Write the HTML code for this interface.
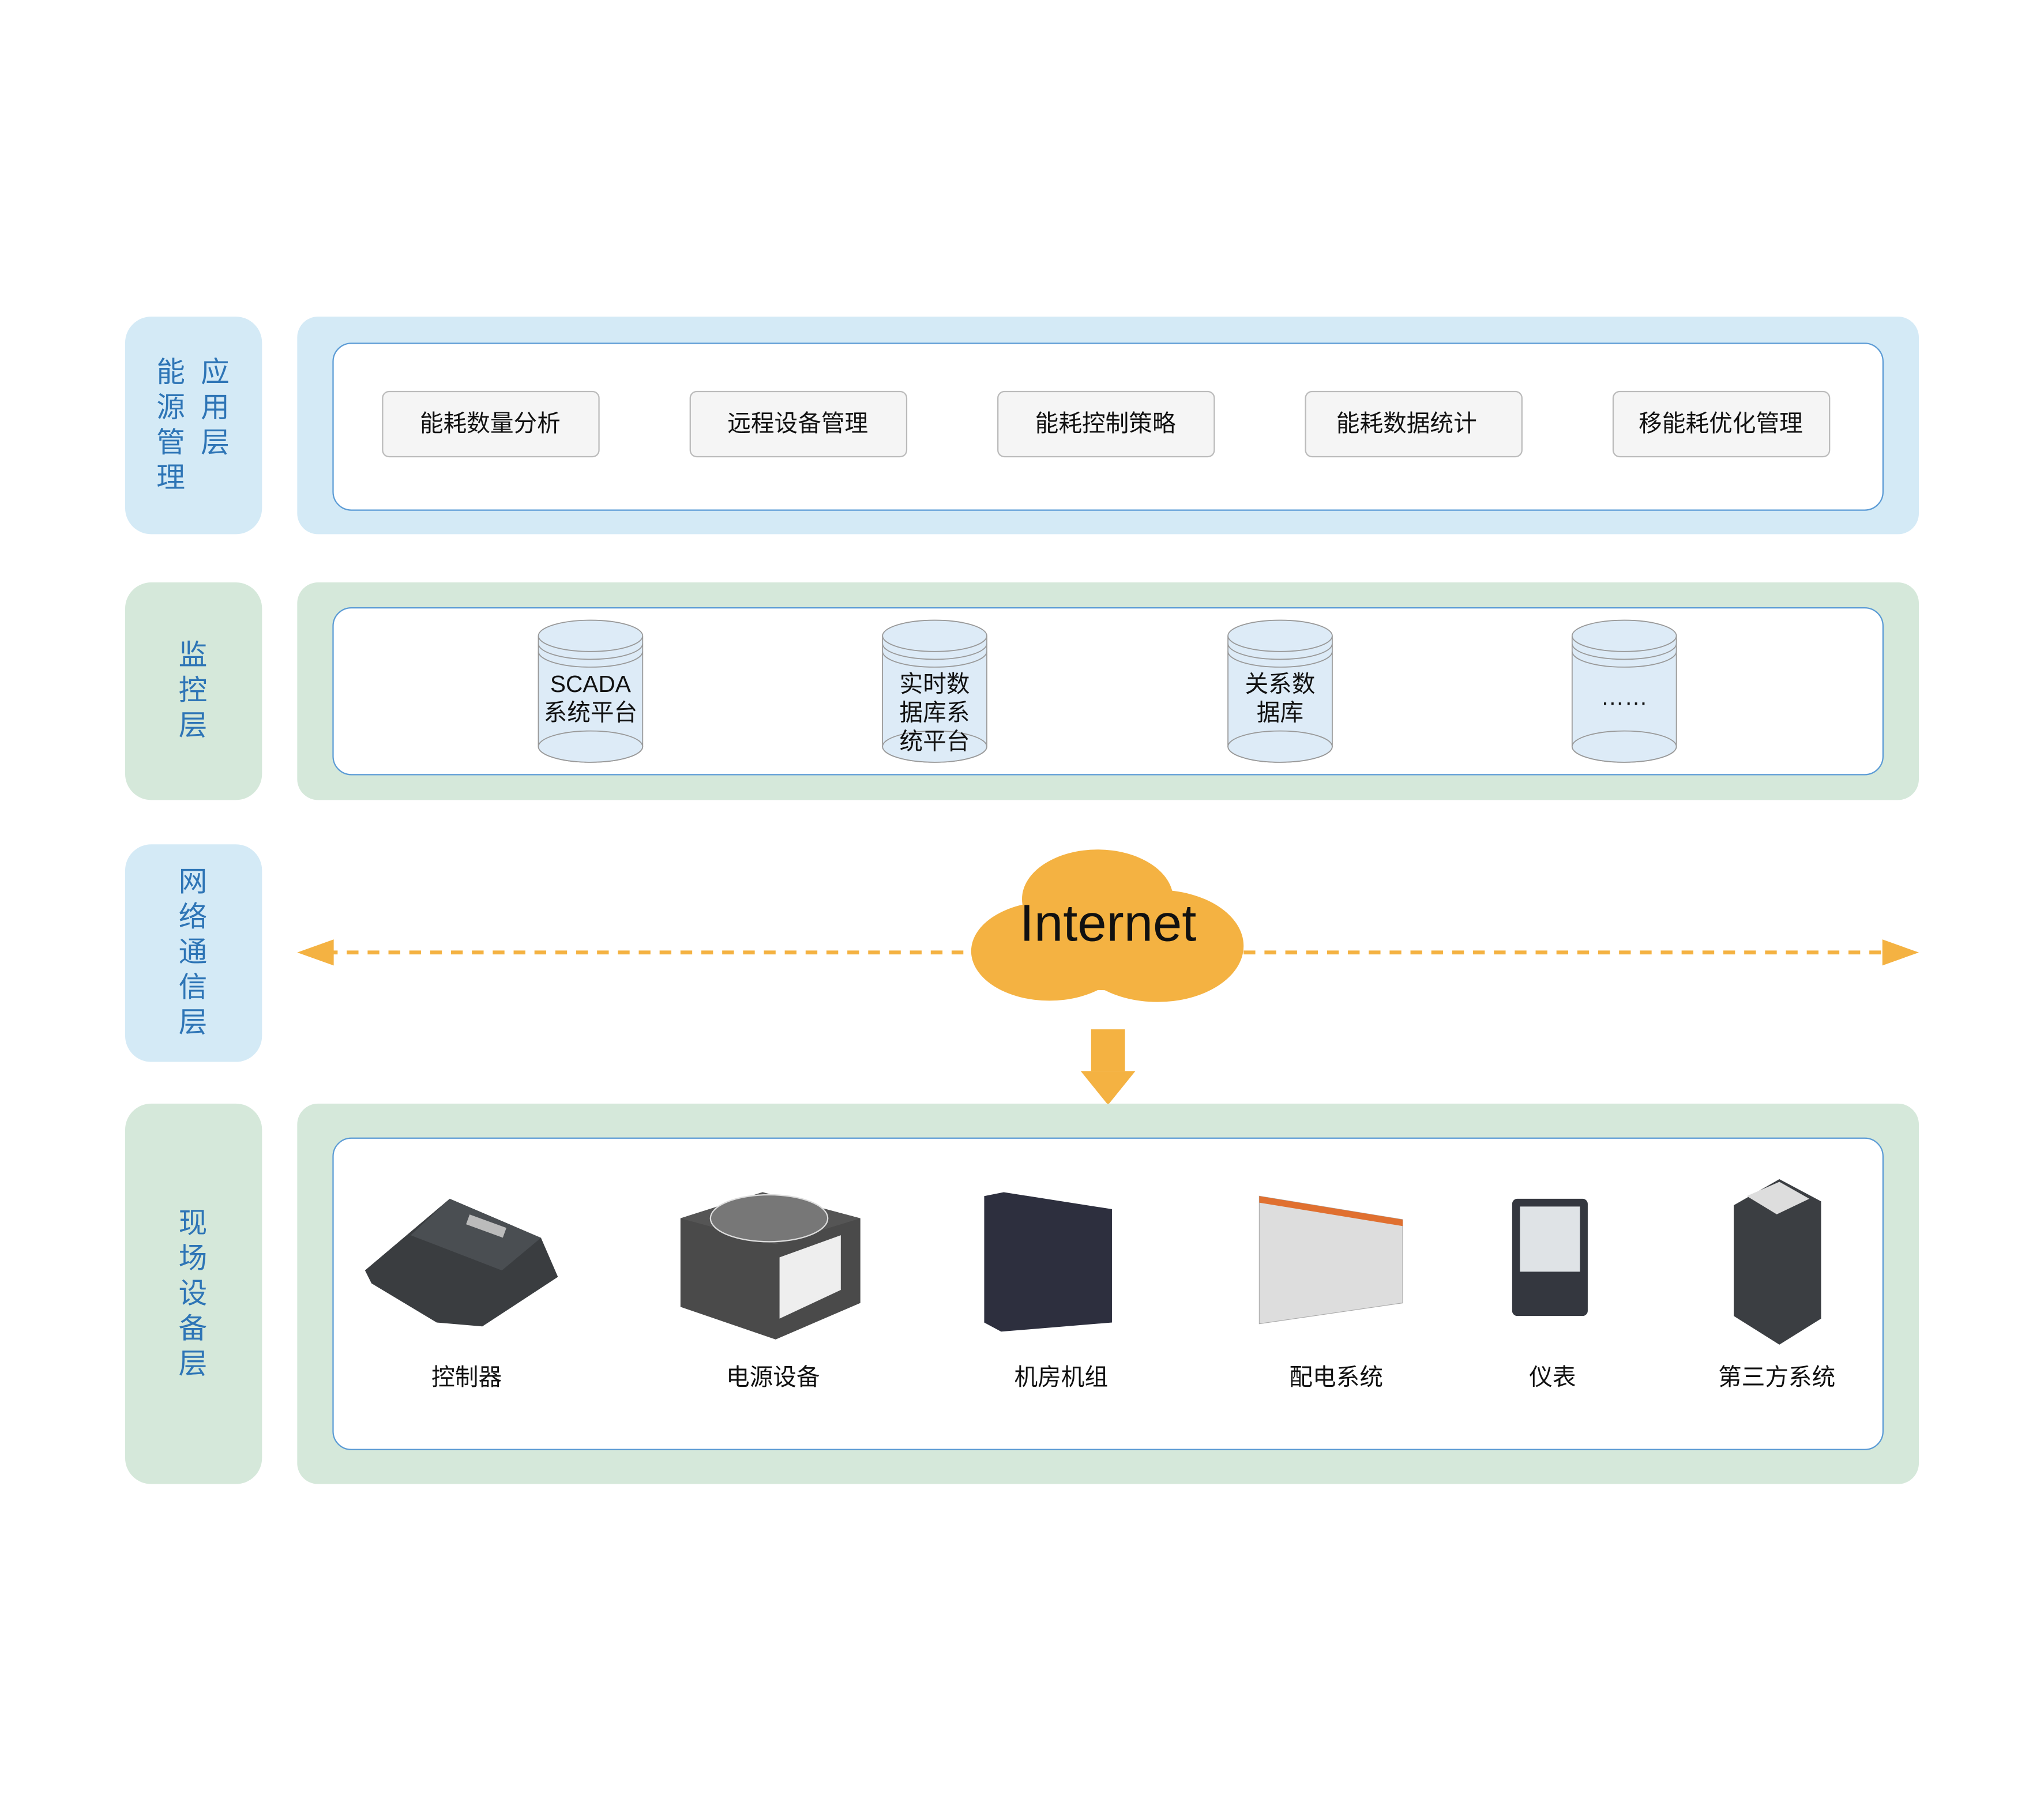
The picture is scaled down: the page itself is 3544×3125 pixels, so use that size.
<!DOCTYPE html>
<html><head><meta charset="utf-8"><style>
html,body{margin:0;padding:0;background:#fff;}
svg{display:block;}
text{font-family:"Liberation Sans","Noto Sans CJK SC",sans-serif;}
</style></head><body>
<svg width="3544" height="3125" viewBox="0 0 1568 1383" preserveAspectRatio="none" xmlns="http://www.w3.org/2000/svg">
<rect width="1568" height="1383" fill="#fff"/>
<!-- Row 1 -->
<rect x="96" y="243" width="105" height="167" rx="20" fill="#d4eaf6"/>
<g fill="#2e75b6" font-size="22">
<text x="120" y="293">能</text><text x="120" y="320">源</text><text x="120" y="347">管</text><text x="120" y="374">理</text>
<text x="154" y="293">应</text><text x="154" y="320">用</text><text x="154" y="347">层</text>
</g>
<rect x="228" y="243" width="1244" height="167" rx="16" fill="#d4eaf6"/>
<rect x="255.5" y="263.5" width="1189" height="128" rx="14" fill="#fff" stroke="#5b9bd5" stroke-width="1"/>
<g font-size="18" fill="#111" text-anchor="middle">
<rect x="293.5" y="300.5" width="166" height="50" rx="5" fill="#f5f5f5" stroke="#bbb"/><text x="376" y="331">能耗数量分析</text>
<rect x="529.5" y="300.5" width="166" height="50" rx="5" fill="#f5f5f5" stroke="#bbb"/><text x="612" y="331">远程设备管理</text>
<rect x="765.5" y="300.5" width="166" height="50" rx="5" fill="#f5f5f5" stroke="#bbb"/><text x="848" y="331">能耗控制策略</text>
<rect x="1001.5" y="300.5" width="166" height="50" rx="5" fill="#f5f5f5" stroke="#bbb"/><text x="1079" y="331">能耗数据统计</text>
<rect x="1237.5" y="300.5" width="166" height="50" rx="5" fill="#f5f5f5" stroke="#bbb"/><text x="1320" y="331">移能耗优化管理</text>
</g>
<!-- Row 2 -->
<rect x="96" y="447" width="105" height="167" rx="20" fill="#d5e8da"/>
<g fill="#2e75b6" font-size="22"><text x="137" y="510">监</text><text x="137" y="537">控</text><text x="137" y="564">层</text></g>
<rect x="228" y="447" width="1244" height="167" rx="16" fill="#d5e8da"/>
<rect x="255.5" y="466.5" width="1189" height="128" rx="14" fill="#fff" stroke="#5b9bd5" stroke-width="1"/>
<g id="cyl" fill="#ddebf7" stroke="#999" stroke-width="0.8">
</g>
<g fill="#ddebf7" stroke="#999" stroke-width="0.8">
<path d="M413 488 V573 A40 12 0 0 0 493 573 V488"/><ellipse cx="453" cy="573" rx="40" ry="12"/><ellipse cx="453" cy="488" rx="40" ry="12"/><path d="M413 494 A40 12 0 0 0 493 494 M413 500 A40 12 0 0 0 493 500" fill="none"/>
<path d="M677 488 V573 A40 12 0 0 0 757 573 V488"/><ellipse cx="717" cy="573" rx="40" ry="12"/><ellipse cx="717" cy="488" rx="40" ry="12"/><path d="M677 494 A40 12 0 0 0 757 494 M677 500 A40 12 0 0 0 757 500" fill="none"/>
<path d="M942 488 V573 A40 12 0 0 0 1022 573 V488"/><ellipse cx="982" cy="573" rx="40" ry="12"/><ellipse cx="982" cy="488" rx="40" ry="12"/><path d="M942 494 A40 12 0 0 0 1022 494 M942 500 A40 12 0 0 0 1022 500" fill="none"/>
<path d="M1206 488 V573 A40 12 0 0 0 1286 573 V488"/><ellipse cx="1246" cy="573" rx="40" ry="12"/><ellipse cx="1246" cy="488" rx="40" ry="12"/><path d="M1206 494 A40 12 0 0 0 1286 494 M1206 500 A40 12 0 0 0 1286 500" fill="none"/>
</g>
<g font-size="18" fill="#111" text-anchor="middle">
<text x="453" y="531">SCADA</text><text x="453" y="553">系统平台</text>
<text x="717" y="531">实时数</text><text x="717" y="553">据库系</text><text x="717" y="575">统平台</text>
<text x="982" y="531">关系数</text><text x="982" y="553">据库</text>
<text x="1246" y="541">……</text>
</g>
<!-- Row 3 -->
<rect x="96" y="648" width="105" height="167" rx="20" fill="#d4eaf6"/>
<g fill="#2e75b6" font-size="22"><text x="137" y="684">网</text><text x="137" y="711">络</text><text x="137" y="738">通</text><text x="137" y="765">信</text><text x="137" y="792">层</text></g>
<line x1="250" y1="731" x2="1450" y2="731" stroke="#f4b242" stroke-width="3" stroke-dasharray="9,7"/>
<polygon points="228,731 256,721 256,741" fill="#f4b242"/>
<polygon points="1472,731 1444,721 1444,741" fill="#f4b242"/>
<g fill="#f4b242">
<ellipse cx="842" cy="690" rx="58" ry="38"/>
<ellipse cx="805" cy="730" rx="60" ry="38"/>
<ellipse cx="888" cy="726" rx="66" ry="43"/>
<ellipse cx="850" cy="720" rx="80" ry="40"/>
</g>
<text x="850" y="722" font-size="40" fill="#111" text-anchor="middle">Internet</text>
<rect x="837" y="790" width="26" height="32" fill="#f4b242"/>
<polygon points="829,822 871,822 850,848" fill="#f4b242"/>
<!-- Row 4 -->
<rect x="96" y="847" width="105" height="292" rx="20" fill="#d5e8da"/>
<g fill="#2e75b6" font-size="22"><text x="137" y="946">现</text><text x="137" y="973">场</text><text x="137" y="1000">设</text><text x="137" y="1027">备</text><text x="137" y="1054">层</text></g>
<rect x="228" y="847" width="1244" height="292" rx="16" fill="#d5e8da"/>
<rect x="255.5" y="873.5" width="1189" height="239" rx="14" fill="#fff" stroke="#5b9bd5" stroke-width="1"/>
<!-- controller -->
<polygon points="280,975 345,920 415,950 428,980 370,1018 335,1015 285,985" fill="#3a3d40"/>
<polygon points="345,920 415,950 385,975 315,948" fill="#4a4e52"/>
<rect x="358" y="937" width="30" height="8" fill="#bbb" transform="rotate(20 373 941)"/>
<!-- PSU -->
<polygon points="522,935 585,915 660,935 660,1000 595,1028 522,1003" fill="#4a4a4a"/>
<polygon points="522,935 585,915 660,935 595,955" fill="#555"/>
<ellipse cx="590" cy="935" rx="45" ry="18" fill="#777" stroke="#ddd"/>
<polygon points="598,965 645,948 645,990 598,1012" fill="#eee"/>
<!-- crac -->
<polygon points="755,918 770,915 853,928 853,1015 768,1022 755,1015" fill="#2d2f3e"/>
<!-- switchgear -->
<polygon points="966,918 1076,936 1076,1000 966,1016" fill="#ddd" stroke="#aaa" stroke-width="0.5"/>
<polygon points="966,918 1076,936 1076,941 966,923" fill="#e07030"/>
<!-- meter -->
<rect x="1160" y="920" width="58" height="90" rx="4" fill="#34373f"/>
<rect x="1166" y="926" width="46" height="50" fill="#dfe3e6"/>
<!-- rack -->
<polygon points="1330,925 1365,905 1397,922 1397,1012 1365,1032 1330,1010" fill="#3b3e42"/>
<polygon points="1340,918 1365,907 1388,920 1363,932" fill="#ddd"/>
<g font-size="18" fill="#111" text-anchor="middle">
<text x="358" y="1063">控制器</text>
<text x="593" y="1063">电源设备</text>
<text x="814" y="1063">机房机组</text>
<text x="1025" y="1063">配电系统</text>
<text x="1191" y="1063">仪表</text>
<text x="1363" y="1063">第三方系统</text>
</g>
</svg>
</body></html>
